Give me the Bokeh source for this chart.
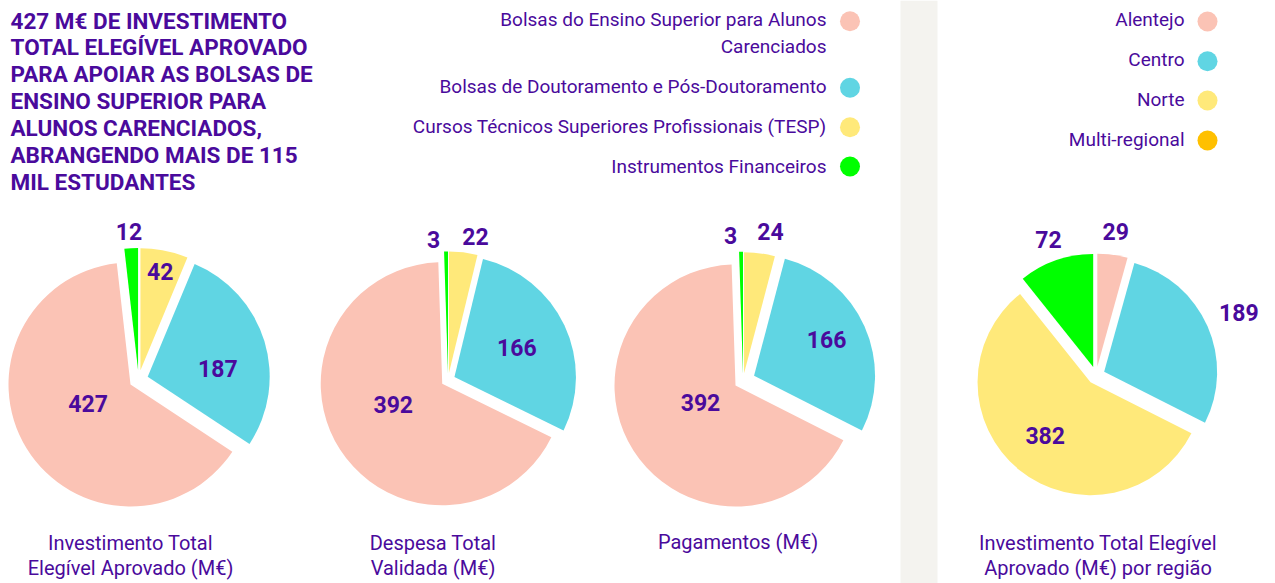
import math
from bokeh.plotting import figure
from bokeh.models import Range1d, ColumnDataSource
from bokeh.core.properties import value
from bokeh.embed import file_html
from bokeh.resources import INLINE

# ---------------- data ----------------
title_lines = ["427 M€ DE INVESTIMENTO", "TOTAL ELEGÍVEL APROVADO", "PARA APOIAR AS BOLSAS DE",
               "ENSINO SUPERIOR PARA", "ALUNOS CARENCIADOS,", "ABRANGENDO MAIS DE 115",
               "MIL ESTUDANTES"]
categories = ["Bolsas do Ensino Superior para Alunos Carenciados",
              "Bolsas de Doutoramento e Pós-Doutoramento",
              "Cursos Técnicos Superiores Profissionais (TESP)",
              "Instrumentos Financeiros"]
category_legend_lines = [["Bolsas do Ensino Superior para Alunos", "Carenciados"],
                         ["Bolsas de Doutoramento e Pós-Doutoramento"],
                         ["Cursos Técnicos Superiores Profissionais (TESP)"],
                         ["Instrumentos Financeiros"]]
investimento = [427, 187, 42, 12]
despesa = [392, 166, 22, 3]
pagamentos = [392, 166, 24, 3]
regions = ["Alentejo", "Centro", "Norte", "Multi-regional"]
regiao = [29, 189, 382, 72]
captions = [["Investimento Total", "Elegível Aprovado (M€)"],
            ["Despesa Total", "Validada (M€)"],
            ["Pagamentos (M€)"],
            ["Investimento Total Elegível", "Aprovado (M€) por região"]]

# ---------------- style ----------------
PINK, CYAN, YELLOW, GREEN, ORANGE = "#FBC3B5", "#60D5E3", "#FFE97A", "#00FF00", "#FFC000"
cat_colors = [PINK, CYAN, YELLOW, GREEN]
reg_legend_colors = [PINK, CYAN, YELLOW, ORANGE]
reg_slice_colors = [PINK, CYAN, YELLOW, GREEN]
TXT = "#4A0A9C"
FONT = "Roboto"

W, H = 1275, 583
p = figure(width=W, height=H, x_range=Range1d(0, W), y_range=Range1d(0, H),
           output_backend="svg", toolbar_location=None, min_border=0,
           x_axis_location=None, y_axis_location=None, outline_line_color=None)
p.grid.visible = False
p.background_fill_color = "white"
p.border_fill_color = "white"


def Y(img_y):
    return H - img_y


def txt(x, y_img, s, size, align="left", bold=False):
    p.text(x=[x], y=[Y(y_img)], text=[s], text_font=value(FONT),
           text_font_style="bold" if bold else "normal", text_font_size=size,
           text_color=TXT, text_align=align, text_baseline="middle")


# grey separator band
p.quad(left=[900], right=[937], bottom=[0], top=[H], fill_color="#F4F3EF", line_color=None)

# title
for i, line in enumerate(title_lines):
    txt(10, 20 + 26.9 * i, line, "22.5px", bold=True)


def legend(labels_lines, colors, text_right, dot_x, centers, dot_ys, fs):
    for lines, col, c, dy in zip(labels_lines, colors, centers, dot_ys):
        for j, ln in enumerate(lines):
            txt(text_right, c + 26.6 * j, ln, fs, align="right")
        p.circle(x=[dot_x], y=[Y(dy)], radius=10, fill_color=col, line_color=None)


legend(category_legend_lines, cat_colors, 826, 849.5, [19.2, 86.2, 125.8, 165.8],
       [20.7, 87.3, 126.7, 166], "19px")
legend([[r] for r in regions], reg_legend_colors, 1184, 1207, [18.8, 58.7, 98.7, 138.7],
       [21, 60.7, 100, 140], "19px")


def pie(vals, order, colors, cx_img, cy_img, R, explode, label_pos, fs=23):
    total = float(sum(vals))
    cx, cy = cx_img, Y(cy_img)
    xs, ys, sa, ea, cols = [], [], [], [], []
    lx, ly, lt = [], [], []
    cum = 0.0
    for k, idx in enumerate(order):
        v = vals[idx]
        a0 = 90 - 360 * cum / total
        a1 = 90 - 360 * (cum + v) / total
        mid = (a0 + a1) / 2
        e = explode[k]
        xs.append(cx + e * math.cos(math.radians(mid)))
        ys.append(cy + e * math.sin(math.radians(mid)))
        sa.append(math.radians(a1))
        ea.append(math.radians(a0))
        cols.append(colors[idx])
        dr, da = label_pos[k]
        la = math.radians(mid + da)
        lx.append(cx + dr * math.cos(la))
        ly.append(cy + dr * math.sin(la))
        lt.append(str(v))
        cum += v
    src = ColumnDataSource(dict(x=xs, y=ys, s=sa, e=ea, c=cols))
    p.wedge(x="x", y="y", radius=R, start_angle="s", end_angle="e", fill_color="c",
            line_color=None, source=src)
    p.text(x=lx, y=ly, text=lt, text_font=value(FONT), text_font_style="bold",
           text_font_size=f"{fs}px", text_color=TXT, text_align="center", text_baseline="middle")


cat_order = [2, 1, 0, 3]   # clockwise from 12 o'clock
pie(investimento, cat_order, cat_colors, 138.1, 379.0, 122, [9.5, 9.5, 9.5, 9.5],
    [(110, 0), (80, -9), (56, -6), (148, 0.5)])
pie(despesa, cat_order, cat_colors, 447.6, 379.5, 121.5, [7, 7, 7, 7],
    [(146, -4), (76, 0), (60, -9), (141, 5)])
pie(pagamentos, cat_order, cat_colors, 742.6, 380.2, 121, [7.5, 12, 9, 8],
    [(152, -3), (93, 2), (48, -5), (146, 4)])
pie(regiao, [0, 1, 2, 3], reg_slice_colors, 1095.6, 374.9, 113, [8.8, 8.8, 8.8, 8.8],
    [(145, 0), (156, 0), (79, -1), (144, 0)])

# captions
cap_x = [130, 432.5, 737.5, 1097.5]
cap_c = [542.5, 542.5, 541.5, 542.5]
for cx, c, lines in zip(cap_x, cap_c, captions):
    for j, ln in enumerate(lines):
        txt(cx, c + 25 * j, ln, "20px", align="center")

open("out.html", "w").write(file_html(p, INLINE))
